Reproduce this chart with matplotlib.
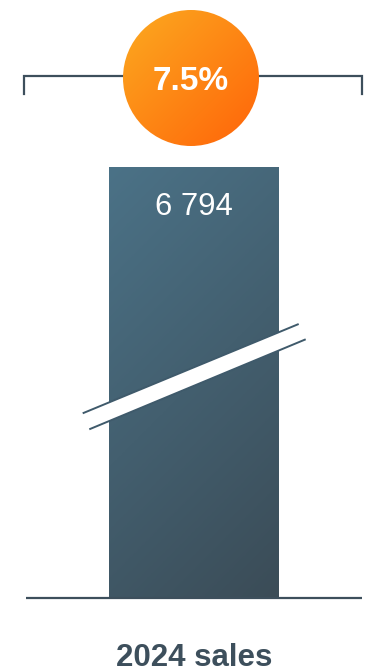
import matplotlib
matplotlib.use("Agg")
import matplotlib.pyplot as plt
import numpy as np
from matplotlib.patches import Circle, Polygon
from matplotlib.colors import LinearSegmentedColormap

# ---- data ----
categories = ["2024 sales"]
values = [6794]
value_labels = ["6 794"]
growth_label = "7.5%"

plt.rcParams['font.family'] = ['Liberation Sans', 'DejaVu Sans']

W, H = 375, 672
fig = plt.figure(figsize=(W / 100, H / 100), dpi=100)
fig.patch.set_facecolor("white")

# main bar axes
ax = fig.add_axes([0, (H - 597) / H, 1, 430 / H])
ax.set_xlim(0, W)
ax.set_ylim(0, values[0])
ax.axis("off")
bars = ax.bar([194], values, width=170, color="none", edgecolor="none")
bar_cmap = LinearSegmentedColormap.from_list("bar", ["#4b7287", "#3b4c57"])
for b in bars:
    x0, y0 = b.get_x(), b.get_y()
    w, h = b.get_width(), b.get_height()
    wpx, hpx = 170.0, 430.0
    gx, gy = np.meshgrid(np.linspace(0, 1, 200), np.linspace(0, 1, 400))
    grad = (gx * wpx + (1 - gy) * hpx) / (wpx + hpx)
    im = ax.imshow(grad, cmap=bar_cmap, extent=[x0, x0 + w, y0, y0 + h],
                   origin="lower", aspect="auto", zorder=2)
    im.set_clip_path(b)

# overlay axes in pixel coordinates
ov = fig.add_axes([0, 0, 1, 1])
ov.set_xlim(0, W)
ov.set_ylim(H, 0)
ov.axis("off")
ov.patch.set_alpha(0)

dark = "#3d4f5c"
# baseline
ov.plot([26, 362], [597.5, 597.5], color=dark, lw=1.6, solid_capstyle="butt", zorder=3)

# break mark
p1a, p1b = (82.7, 413.3), (298.7, 324.0)
p2a, p2b = (89.3, 429.3), (305.7, 339.3)
ov.add_patch(Polygon([p1a, p1b, p2b, p2a], closed=True, facecolor="white",
                     edgecolor="none", zorder=4))
for a, b in [(p1a, p1b), (p2a, p2b)]:
    ov.plot([a[0], b[0]], [a[1], b[1]], color="#3f5a6b", lw=1.4, zorder=5,
            solid_capstyle="butt")

# bracket
ov.plot([24, 24, 362, 362], [94, 76, 76, 94], color=dark, lw=1.6, zorder=3,
        solid_joinstyle="miter")

# circle with gradient
cx, cy, r = 191, 78, 68
circ = Circle((cx, cy), r, facecolor="none", edgecolor="none", zorder=6)
ov.add_patch(circ)
circ_cmap = LinearSegmentedColormap.from_list("circ", ["#fcaa20", "#ff6409"])
gx, gy = np.meshgrid(np.linspace(0, 1, 200), np.linspace(0, 1, 200))
cgrad = (gx + gy) / 2
im2 = ov.imshow(cgrad, cmap=circ_cmap, extent=[cx - r, cx + r, cy + r, cy - r],
                origin="upper", aspect="auto", zorder=6)
im2.set_clip_path(circ)
ov.text(cx, 90, growth_label, color="white", fontsize=24, fontweight="bold",
        ha="center", va="baseline", zorder=7)

# value label
ov.text(194, 215, value_labels[0], color="white", fontsize=22.3, ha="center",
        va="baseline", zorder=7)

# category label
ov.text(194.5, 666, categories[0], color=dark, fontsize=22.5, fontweight="bold",
        ha="center", va="baseline", zorder=7)

fig.savefig("out.png", dpi=100, facecolor="white")
